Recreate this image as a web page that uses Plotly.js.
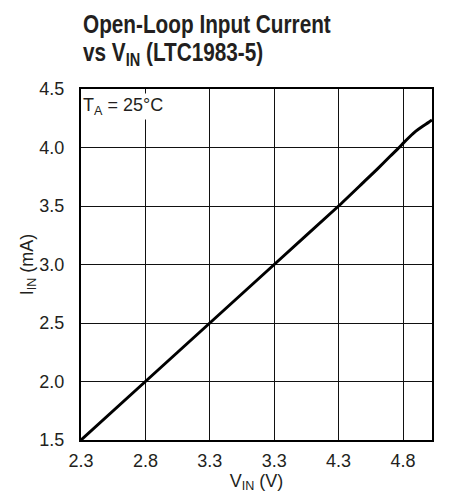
<!DOCTYPE html>
<html>
<head>
<meta charset="utf-8">
<script src="https://cdn.plot.ly/plotly-3.0.1.min.js"></script>
<style>html,body{margin:0;padding:0;background:#fff;}#chart{width:451px;height:496px;}</style>
</head>
<body>
<div id="chart"></div>
<script>
var vin = [2.3, 2.8, 3.3, 3.8, 4.3, 4.5, 4.6, 4.7, 4.77, 4.8, 4.85, 4.9, 4.95, 5.0, 5.025];
var iin = [1.5, 2.0, 2.5, 3.0, 3.5, 3.71, 3.815, 3.925, 4.0, 4.035, 4.09, 4.14, 4.18, 4.215, 4.235];
var xTickVals = [2.3, 2.8, 3.3, 3.8, 4.3, 4.8];
var xTickText = ['2.3', '2.8', '3.3', '3.3', '4.3', '4.8'];
var yTickVals = [1.5, 2.0, 2.5, 3.0, 3.5, 4.0, 4.5];
var yTickText = ['1.5', '2.0', '2.5', '3.0', '3.5', '4.0', '4.5'];
var titleLines = ['Open-Loop Input Current', 'vs V<sub>IN</sub> (LTC1983-5)'];

var FONT = '"Liberation Sans Narrow", "Liberation Sans", Arial, sans-serif';
var TXT = '#231f20';

var trace = {
  x: vin, y: iin, type: 'scatter', mode: 'lines',
  line: {color: '#000', width: 3, shape: 'spline', smoothing: 0.5},
  hoverinfo: 'skip'
};

// plot area: top 89px, bottom 440px (height 351)
function py(pix) { return (440 - pix) / 351; }

var layout = {
  width: 451, height: 496,
  margin: {l: 81, r: 19, t: 89, b: 56},
  paper_bgcolor: '#fff', plot_bgcolor: '#fff',
  showlegend: false,
  font: {family: FONT, color: TXT, size: 18},
  xaxis: {
    range: [2.3, 5.025], tickvals: xTickVals, ticktext: xTickText,
    showgrid: true, gridcolor: '#111', gridwidth: 1,
    zeroline: false, showline: true, linecolor: '#000', linewidth: 2, mirror: true,
    ticks: 'outside', ticklen: 3, tickcolor: 'rgba(0,0,0,0)',
    tickfont: {family: FONT, size: 18, color: TXT},
    title: {text: 'V<sub>IN</sub> (V)', font: {family: FONT, size: 18, color: TXT}, standoff: 2}
  },
  yaxis: {
    range: [1.5, 4.5], tickvals: yTickVals, ticktext: yTickText,
    showgrid: true, gridcolor: '#111', gridwidth: 1,
    zeroline: false, showline: true, linecolor: '#000', linewidth: 2, mirror: true,
    ticks: 'outside', ticklen: 11, tickcolor: 'rgba(0,0,0,0)',
    tickfont: {family: FONT, size: 18, color: TXT},
    title: {text: 'I<sub>IN</sub> (mA)', font: {family: FONT, size: 18, color: TXT}, standoff: 0}
  },
  annotations: [
    {
      text: '<b>' + titleLines[0] + '</b>', xref: 'paper', yref: 'paper',
      x: 0, y: py(24), xanchor: 'left', yanchor: 'middle', showarrow: false,
      font: {family: FONT, size: 25, color: TXT}
    },
    {
      text: '<b>' + titleLines[1] + '</b>', xref: 'paper', yref: 'paper',
      x: 0, y: py(54), xanchor: 'left', yanchor: 'middle', showarrow: false,
      font: {family: FONT, size: 25, color: TXT}
    },
    {
      text: 'T<sub>A</sub> = 25°C', xref: 'paper', yref: 'paper',
      x: 0.0, y: 0.99, xanchor: 'left', yanchor: 'top', showarrow: false,
      bgcolor: '#fff',
      font: {family: FONT, size: 18, color: TXT}
    }
  ]
};

Plotly.newPlot('chart', [trace], layout, {staticPlot: true, displayModeBar: false}).then(function (gd) {
  // condense the bold title lines horizontally, like the reference's condensed typeface
  var texts = gd.querySelectorAll('.annotation-text');
  for (var i = 0; i < 2 && i < texts.length; i++) {
    var t = texts[i];
    t.style.transformBox = 'fill-box';
    t.style.transformOrigin = 'left center';
    t.style.transform = 'scaleX(0.83)';
  }
});
</script>
</body>
</html>
